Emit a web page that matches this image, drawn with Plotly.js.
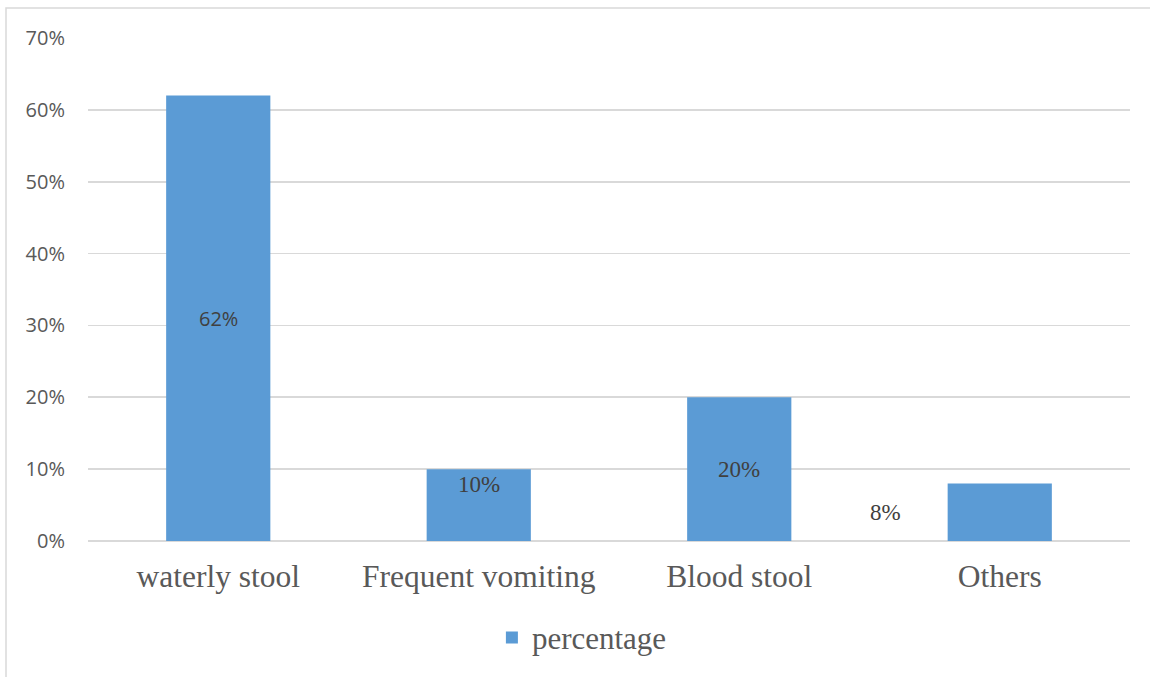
<!DOCTYPE html>
<html>
<head>
<meta charset="utf-8">
<script src="https://cdn.plot.ly/plotly-3.0.1.min.js"></script>
<style>
  html, body { margin: 0; padding: 0; background: #ffffff; }
  #chart { width: 1150px; height: 677px; }
</style>
</head>
<body>
<div id="chart"></div>
<script>
// Symptom categories and their share of cases (%)
const categories = ['waterly stool', 'Frequent vomiting', 'Blood stool', 'Others'];
const percentages = [62, 10, 20, 8];
const seriesName = 'percentage';
const yTickValues = [0, 10, 20, 30, 40, 50, 60, 70];
const yTickLabels = ['0%', '10%', '20%', '30%', '40%', '50%', '60%', '70%'];

// How each data label sits relative to its bar, and its typeface
const labelPlacement = ['middle', 'top', 'middle', 'left'];
const labelFamily = ['Open Sans', 'Liberation Serif', 'Liberation Serif', 'Liberation Serif'];
const labelSize = [20, 23, 23, 23];

const barColor = '#5B9BD5';
const gridColor = '#D9D9D9';
const axisText = '#595959';
const labelText = '#404040';

const annotations = percentages.map((v, i) => {
  const a = {
    x: categories[i], xref: 'x', yref: 'y',
    text: v + '%', showarrow: false,
    font: { family: labelFamily[i], size: labelSize[i], color: labelText },
    xanchor: 'center'
  };
  if (labelPlacement[i] === 'top') {
    a.y = v; a.yanchor = 'top'; a.yshift = -1;
  } else if (labelPlacement[i] === 'left') {
    a.y = v / 2; a.yanchor = 'middle'; a.xshift = -114;
  } else {
    a.y = v / 2; a.yanchor = 'middle';
  }
  return a;
});

const trace = {
  type: 'bar',
  x: categories,
  y: percentages,
  name: seriesName,
  marker: { color: barColor, line: { width: 0 } },
  showlegend: true,
  hoverinfo: 'x+y'
};

const layout = {
  width: 1150,
  height: 677,
  margin: { l: 88, r: 20, t: 38, b: 136 },
  paper_bgcolor: '#ffffff',
  plot_bgcolor: '#ffffff',
  bargap: 0.6,
  showlegend: true,
  legend: {
    orientation: 'h',
    xref: 'container', yref: 'container',
    x: 0.506, xanchor: 'center',
    y: 0.058, yanchor: 'middle',
    font: { family: 'Liberation Serif', size: 31, color: axisText },
    itemwidth: 20
  },
  xaxis: {
    type: 'category',
    showgrid: false,
    showline: false,
    zeroline: false,
    ticks: '',
    ticklabelstandoff: 13,
    tickfont: { family: 'Liberation Serif', size: 31.5, color: axisText }
  },
  yaxis: {
    range: [0, 70],
    tickvals: yTickValues,
    ticktext: yTickLabels,
    showgrid: true,
    gridcolor: gridColor,
    gridwidth: 1.8,
    zeroline: true,
    zerolinecolor: gridColor,
    zerolinewidth: 1.8,
    showline: false,
    ticks: '',
    ticklabelstandoff: 22,
    tickfont: { family: 'Open Sans', size: 20, color: axisText }
  },
  annotations: annotations,
  shapes: [
    {
      type: 'path', xref: 'paper', yref: 'paper',
      path: 'M -0.0787,-0.3 L -0.0787,1.0596 L 1.1,1.0596',
      line: { color: gridColor, width: 1.5 }
    }
  ]
};

Plotly.newPlot('chart', [trace], layout, { displayModeBar: false, staticPlot: true });
</script>
</body>
</html>
